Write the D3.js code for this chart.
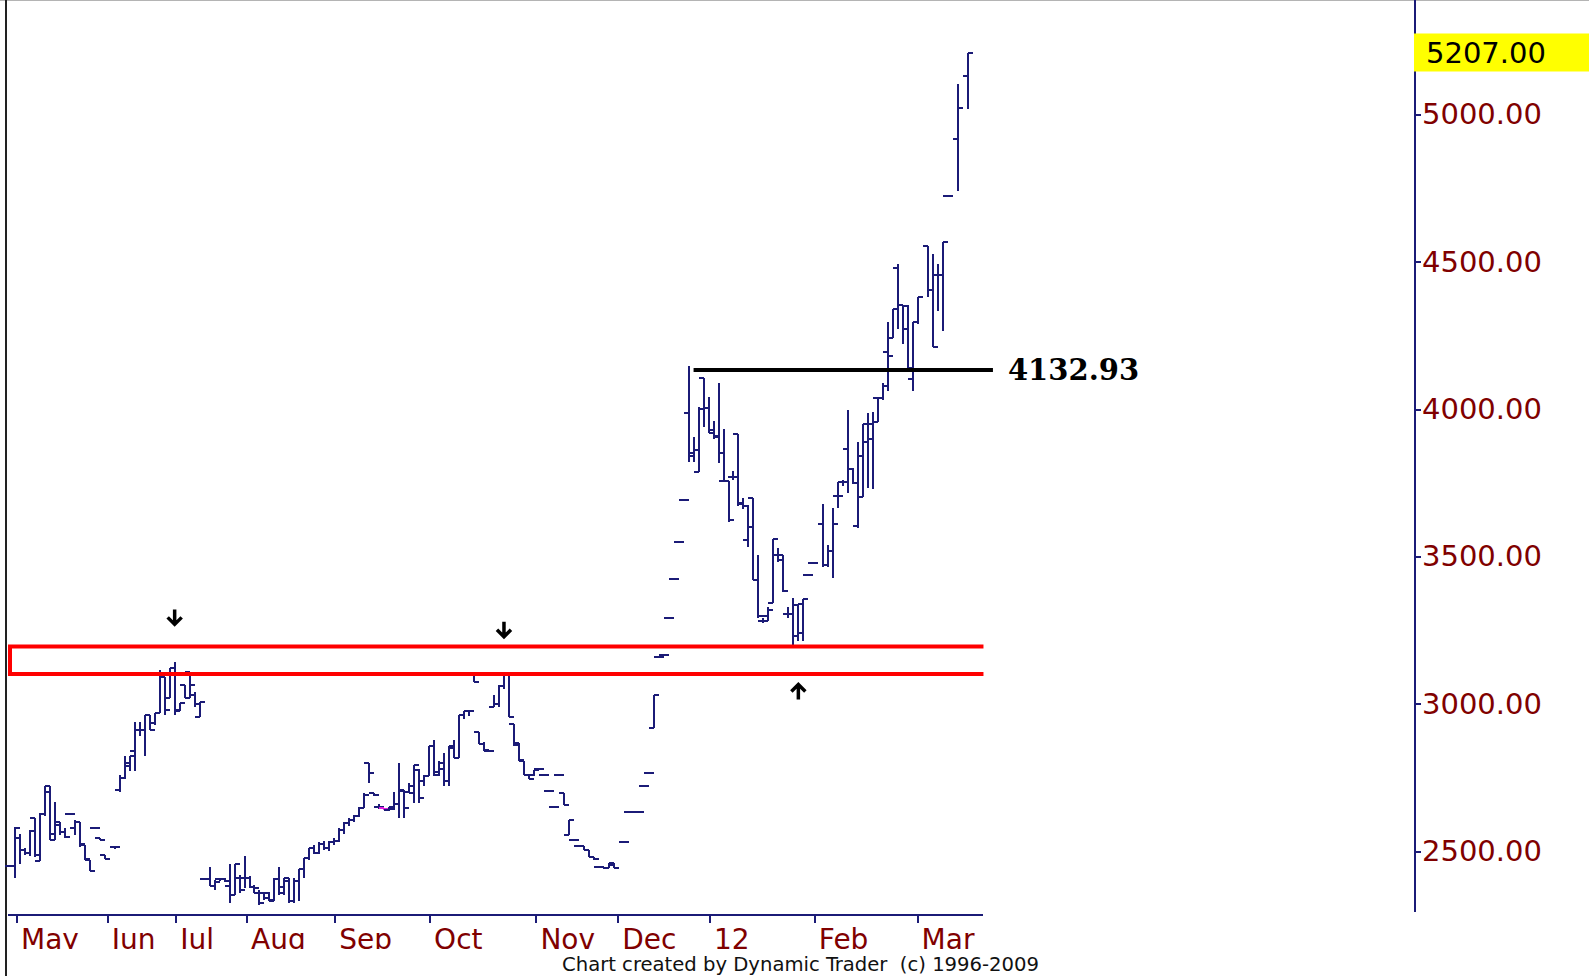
<!DOCTYPE html>
<html lang="en">
<head>
<meta charset="UTF-8" />
<title>Daily bars - Dynamic Trader</title>
<style>
  body { margin: 0; background: #fff; }
  svg { display: block; background: #fff; }
  .bars line { stroke: #1b1b77; stroke-width: 2; shape-rendering: crispEdges; }
  .bars .hl line { stroke: #e020e0; }
  .axis text { fill: #800000; font-family: "DejaVu Sans", Verdana, sans-serif; }
  .axis line { stroke: #1b1b77; stroke-width: 2; shape-rendering: crispEdges; }
</style>
</head>
<body>
<svg></svg>
<script src="https://d3js.org/d3.v7.min.js"></script>
<script>
const width = 1589, height = 976;

// [open, high, low, close] per trading day, null = no bar
const may = [
  [2451, 2455, 2447, 2451], [2451, 2584, 2409, 2580], [2545, 2560, 2458, 2505], [2505, 2512, 2488, 2494],
  [2494, 2573, 2483, 2570], [2613, 2613, 2480, 2486], [2466, 2630, 2466, 2628], [2628, 2722, 2620, 2700],
  [2720, 2720, 2539, 2560], [2539, 2666, 2539, 2600], [2590, 2600, 2555, 2565], [2565, 2580, 2545, 2550],
  [2626, 2626, 2626, 2626], [2580, 2606, 2556, 2600], [2600, 2600, 2516, 2525], [2520, 2520, 2471, 2475],
  [2470, 2470, 2432, 2432], [2579, 2579, 2579, 2579], [2545, 2545, 2537, 2537], [2486, 2486, 2474, 2474],
  null, [2513, 2519, 2508, 2513]
];
const junJul = [
  [2707, 2758, 2700, 2748], [2748, 2822, 2745, 2800], [2790, 2822, 2771, 2822], [2840, 2940, 2771, 2912],
  [2912, 2940, 2890, 2912], [2912, 2963, 2822, 2963], [2963, 2963, 2912, 2912], [2935, 2969, 2930, 2969],
  [2969, 3116, 2969, 3105], [3093, 3093, 2963, 2980], [3020, 3121, 3020, 3121], [3121, 3141, 2963, 2975],
  [2980, 3003, 2975, 3003], [3065, 3065, 3020, 3020], [3107, 3107, 3020, 3065], [3030, 3040, 2990, 3000],
  [2957, 3008, 2957, 3008]
];
const aug = [
  [2407, 2410, 2405, 2407], [2407, 2447, 2381, 2381], [2381, 2403, 2367, 2395], [2407, 2407, 2400, 2407],
  [2405, 2410, 2395, 2400], [2381, 2458, 2324, 2352], [2352, 2458, 2352, 2458], [2409, 2420, 2360, 2370],
  [2409, 2485, 2375, 2409], [2409, 2415, 2375, 2380], [2380, 2385, 2358, 2375], [2358, 2370, 2319, 2325],
  [2358, 2360, 2335, 2340], [2358, 2362, 2330, 2335], [2330, 2409, 2330, 2405], [2405, 2447, 2352, 2360],
  [2380, 2409, 2352, 2400], [2409, 2409, 2324, 2330], [2330, 2409, 2324, 2400], [2400, 2441, 2330, 2441],
  [2441, 2477, 2409, 2477], [2477, 2511, 2470, 2511]
];
const sepOct = [
  [2511, 2520, 2490, 2495], [2495, 2530, 2490, 2525], [2525, 2535, 2505, 2510], [2510, 2535, 2500, 2530],
  [2530, 2545, 2520, 2535], [2535, 2580, 2530, 2573], [2573, 2601, 2560, 2595], [2595, 2612, 2585, 2605],
  [2605, 2622, 2598, 2620], [2620, 2650, 2615, 2646], [2646, 2697, 2646, 2690], [2799, 2799, 2731, 2766],
  [2697, 2697, 2686, 2690], [2652, 2660, 2645, 2652], [2646, 2648, 2640, 2643], [2640, 2650, 2638, 2645],
  [2652, 2700, 2641, 2660], [2660, 2799, 2612, 2705], [2709, 2709, 2612, 2646], [2700, 2731, 2697, 2720],
  [2697, 2793, 2663, 2793], [2776, 2780, 2663, 2680], [2740, 2760, 2720, 2754], [2754, 2856, 2754, 2856],
  [2856, 2878, 2754, 2760], [2770, 2805, 2754, 2800], [2780, 2833, 2720, 2740], [2740, 2856, 2720, 2856],
  [2850, 2878, 2816, 2816], [2816, 2963, 2816, 2963], [2963, 2977, 2950, 2977], [2977, 2980, 2960, 2975],
  [3099, 3099, 3076, 3076], [2906, 2906, 2865, 2865], [2865, 2870, 2840, 2845], [2839, 2839, 2839, 2839],
  [2991, 3030, 2991, 3000], [3000, 3065, 2991, 3060], [3060, 3099, 3050, 3099], [3099, 3099, 2957, 2957],
  [2933, 2933, 2856, 2860], [2867, 2867, 2805, 2810], [2805, 2805, 2760, 2760], [2760, 2760, 2745, 2745],
  [2760, 2776, 2755, 2776]
];
const nov = [
  [2779, 2779, 2779, 2779], [2760, 2760, 2760, 2760], [2706, 2706, 2706, 2706], [2652, 2652, 2652, 2652],
  [2760, 2760, 2760, 2760], [2697, 2697, 2658, 2658], [2556, 2607, 2556, 2607], [2539, 2539, 2539, 2539],
  [2519, 2519, 2515, 2519], [2519, 2519, 2505, 2505], [2505, 2505, 2480, 2480], [2480, 2480, 2470, 2475],
  [2446, 2446, 2446, 2446], [2446, 2446, 2440, 2442], [2445, 2460, 2443, 2455], [2460, 2460, 2443, 2443]
];
const dec = [
  null, [2533, 2533, 2533, 2533], [2632, 2632, 2632, 2632], [2632, 2632, 2632, 2632],
  [2632, 2632, 2632, 2632], [2720, 2720, 2720, 2720], [2765, 2765, 2765, 2765], [2918, 3031, 2918, 3031],
  [3158, 3158, 3158, 3158], [3165, 3165, 3165, 3165], [3293, 3293, 3293, 3293], [3424, 3424, 3424, 3424],
  [3551, 3551, 3551, 3551], [3691, 3691, 3691, 3691]
];
const jan = [
  [3986, 4147, 3822, 3840], [3851, 3905, 3822, 3860], [3788, 4007, 3788, 4000], [4105, 4105, 3941, 4003],
  [4003, 4043, 3919, 3919], [3930, 3960, 3900, 3910], [3905, 4088, 3817, 3851], [3758, 3932, 3755, 3755],
  [3758, 3758, 3619, 3625], [3770, 3790, 3760, 3770], [3916, 3916, 3670, 3683], [3680, 3700, 3660, 3670],
  [3555, 3675, 3534, 3600], [3700, 3700, 3421, 3421], [3420, 3506, 3290, 3300], [3280, 3290, 3275, 3280],
  [3300, 3330, 3280, 3320], [3344, 3559, 3344, 3559], [3506, 3530, 3480, 3490], [3506, 3506, 3381, 3384],
  [3306, 3330, 3290, 3306], [3306, 3359, 3195, 3230], [3336, 3336, 3212, 3240], [3340, 3355, 3212, 3355]
];
const febMar = [
  [3438, 3438, 3438, 3438], [3478, 3478, 3478, 3478], null, [3611, 3680, 3466, 3470],
  [3470, 3540, 3466, 3518], [3518, 3666, 3426, 3610], [3706, 3753, 3666, 3706], [3753, 3760, 3740, 3753],
  [3866, 3999, 3716, 3796], [3796, 3802, 3747, 3750], [3604, 3889, 3598, 3840], [3703, 3950, 3703, 3950],
  [3890, 3987, 3734, 3900], [3950, 3990, 3730, 3957], [4037, 4037, 3956, 4037], [4037, 4090, 4030, 4080],
  [4195, 4296, 4061, 4179], [4240, 4339, 4240, 4339], [4480, 4493, 4271, 4352], [4352, 4352, 4222, 4271],
  [4350, 4355, 4135, 4140], [4101, 4296, 4061, 4296], [4296, 4380, 4290, 4380], null,
  [4553, 4553, 4380, 4405], [4405, 4528, 4210, 4210], [4454, 4493, 4333, 4454], [4454, 4568, 4265, 4568],
  [4722, 4722, 4722, 4722], null, [4916, 5105, 4740, 5021], null,
  [5129, 5207, 5018, 5207]
];

const monthIdx = [1.3, 19.5, 33.2, 47.4, 65.1, 84.1, 105.4, 121.8, 140.2, 161.2, 181.8];
const monthLabels = ["May", "Jun", "Jul", "Aug", "Sep", "Oct", "Nov", "Dec", "12", "Feb", "Mar"];
const priceTicks = [2500, 3000, 3500, 4000, 4500, 5000];
const highlightIdx = [75];

const zone = [3102, 3195];          // red box
const level = 4132.93;              // black line
const levelSpan = [137, 197];
const arrows = [[33, 3141, "down"], [99, 3099, "down"], [158, 3195, "up"]];
const lastPrice = 5207;

const bars = [].concat(may, junJul, aug, sepOct, nov, dec, jan, febMar);
const data = bars.map((b, i) => b && { i, o: b[0], h: b[1], l: b[2], c: b[3] }).filter(Boolean);

const x = d3.scaleLinear().domain([0, bars.length - 1]).range([10, 968]);
const y = d3.scaleLinear().domain([2500, 5000]).range([851.3, 114.5]);

const svg = d3.select("svg").attr("width", width).attr("height", height);

// frame
svg.append("line").attr("x1", 0).attr("x2", width).attr("y1", 0.5).attr("y2", 0.5)
  .attr("stroke", "#b4b4b4").attr("stroke-width", 1);
svg.append("line").attr("x1", 6).attr("x2", 6).attr("y1", 0).attr("y2", height)
  .attr("stroke", "#222").attr("stroke-width", 2);

// bars
const tick = 5;
const bg = svg.append("g").attr("class", "bars");
const bar = bg.selectAll("g").data(data).join("g")
  .classed("hl", d => highlightIdx.includes(d.i))
  .attr("transform", d => `translate(${Math.round(x(d.i))},0)`);
bar.append("line").attr("x1", 0).attr("x2", 0).attr("y1", d => y(d.h)).attr("y2", d => y(d.l));
bar.append("line").attr("x1", -tick).attr("x2", 0).attr("y1", d => y(d.o)).attr("y2", d => y(d.o));
bar.append("line").attr("x1", 0).attr("x2", tick).attr("y1", d => y(d.c)).attr("y2", d => y(d.c));

// red zone
const zx0 = x(0), zx1 = x(195.1);
svg.append("path")
  .attr("d", `M${zx1},${y(zone[1])}H${zx0}V${y(zone[0])}H${zx1}`)
  .attr("fill", "none").attr("stroke", "#ff0000").attr("stroke-width", 4);

// horizontal level
svg.append("line")
  .attr("x1", x(levelSpan[0])).attr("x2", x(levelSpan[1]))
  .attr("y1", y(level)).attr("y2", y(level))
  .attr("stroke", "#000").attr("stroke-width", 4);
svg.append("text")
  .attr("x", x(levelSpan[1]) + 15).attr("y", y(level)).attr("dy", "0.36em")
  .attr("font-family", "'DejaVu Serif', Georgia, serif").attr("font-weight", "bold")
  .attr("font-size", 29).attr("fill", "#000")
  .text(d3.format(".2f")(level));

// arrows
svg.append("g").selectAll("path").data(arrows).join("path")
  .attr("transform", d => {
    const cy = d[2] === "down" ? y(d[1]) - 45 : y(d[1]) + 45;
    return `translate(${x(d[0])},${cy})${d[2] === "up" ? " rotate(180)" : ""}`;
  })
  .attr("d", "M0,-8V7M-7,0L0,7L7,0")
  .attr("fill", "none").attr("stroke", "#000").attr("stroke-width", 3.5)
  .attr("stroke-linejoin", "miter");

// right price axis
const yAxis = svg.append("g").attr("class", "axis")
  .attr("transform", "translate(1415,0)")
  .call(d3.axisRight(y).tickValues(priceTicks).tickFormat(d3.format(".2f")).tickSize(6).tickPadding(1));
yAxis.select(".domain").remove();
yAxis.selectAll("text").attr("font-size", 29);
svg.append("line").attr("x1", 1415).attr("x2", 1415).attr("y1", 0).attr("y2", 912)
  .attr("stroke", "#1b1b77").attr("stroke-width", 2);

// last price tag
svg.append("rect").attr("x", 1414).attr("y", y(lastPrice) - 20).attr("width", width - 1414).attr("height", 38)
  .attr("fill", "#ffff00");
svg.append("text").attr("x", 1426).attr("y", y(lastPrice)).attr("dy", "0.34em")
  .attr("font-family", "'DejaVu Sans', Verdana, sans-serif").attr("font-size", 29).attr("fill", "#000")
  .text(d3.format(".2f")(lastPrice));

// bottom time axis, labels cut off at their baseline like the source
svg.append("clipPath").attr("id", "lblclip")
  .append("rect").attr("x", 0).attr("y", -915).attr("width", width).attr("height", 915 + 34);
const xAxis = svg.append("g").attr("class", "axis")
  .attr("transform", "translate(0,915)")
  .call(d3.axisBottom(x).tickValues(monthIdx).tickFormat((d, i) => monthLabels[i]).tickSize(8));
xAxis.select(".domain").remove();
xAxis.selectAll("text")
  .attr("text-anchor", "start").attr("x", 4).attr("y", 34).attr("dy", 0)
  .attr("font-size", 28);
xAxis.attr("clip-path", "url(#lblclip)");
svg.append("line").attr("x1", 8).attr("x2", 983).attr("y1", 915).attr("y2", 915)
  .attr("stroke", "#1b1b77").attr("stroke-width", 2);

// credit
svg.append("text")
  .attr("x", 562).attr("y", 971)
  .attr("font-family", "'DejaVu Sans Condensed', 'DejaVu Sans', sans-serif")
  .attr("font-size", 20).attr("fill", "#111")
  .attr("textLength", 477).attr("lengthAdjust", "spacingAndGlyphs")
  .style("white-space", "pre")
  .text("Chart created by Dynamic Trader  (c) 1996-2009");
</script>
</body>
</html>
